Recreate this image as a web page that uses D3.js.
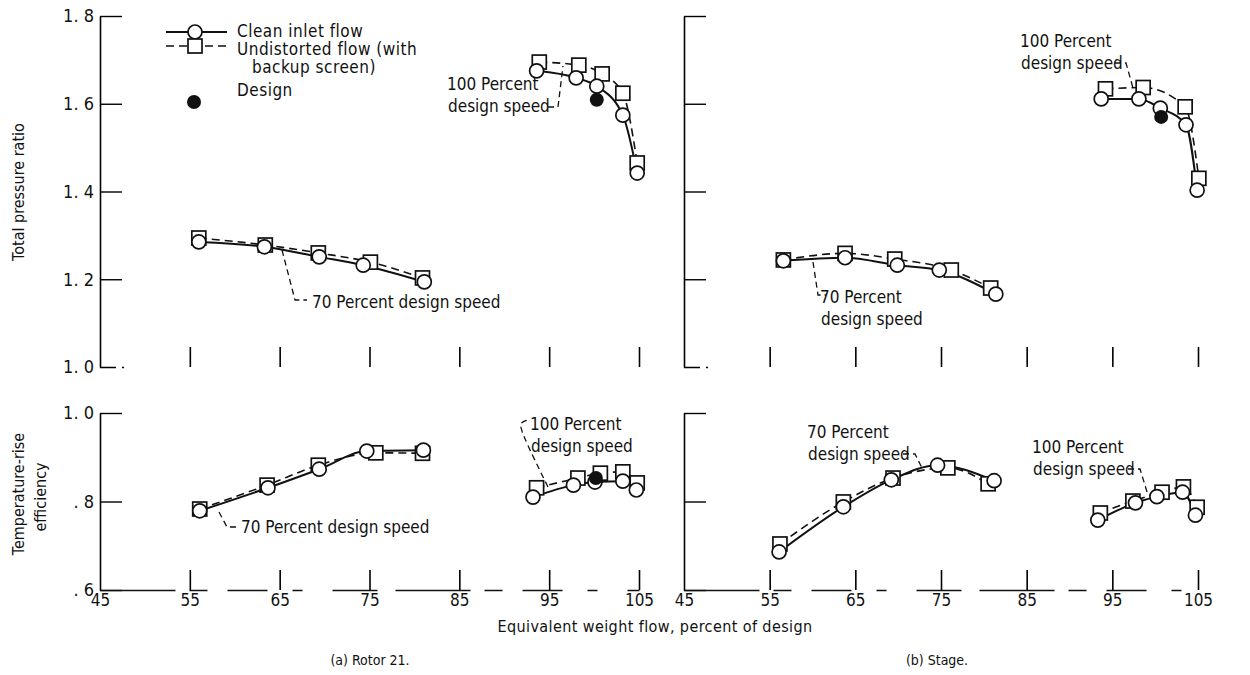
<!DOCTYPE html>
<html>
<head>
<meta charset="utf-8">
<script src="https://cdn.jsdelivr.net/npm/d3@7"></script>
<style>
  body { margin: 0; background: #fff; }
  svg text { font-family: "DejaVu Sans Condensed", "DejaVu Sans", sans-serif; font-stretch: condensed; fill: #111; }
</style>
</head>
<body>
<svg width="1250" height="675"></svg>
<script>
// tick labels
const xTicks = [45, 55, 65, 75, 85, 95, 105];
const prTicks = [1.0, 1.2, 1.4, 1.6, 1.8];
const effTicks = [0.6, 0.8, 1.0];

// (a) Rotor 21 - total pressure ratio
const rotorPr70Clean = [[56.0, 1.285], [63.3, 1.274], [69.4, 1.251], [74.3, 1.232], [81.1, 1.194]];
const rotorPr70Undist = [[56.0, 1.294], [63.4, 1.278], [69.3, 1.260], [75.1, 1.239], [80.9, 1.203]];
const rotorPr100Clean = [[93.6, 1.675], [98.0, 1.659], [100.3, 1.640], [103.2, 1.574], [104.8, 1.442]];
const rotorPr100Undist = [[93.9, 1.695], [98.3, 1.688], [100.9, 1.668], [103.2, 1.624], [104.8, 1.465]];
const rotorPrDesign = [[100.3, 1.609]];

// (a) Rotor 21 - temperature-rise efficiency
const rotorEff70Clean = [[56.1, 0.779], [63.7, 0.831], [69.4, 0.873], [74.7, 0.914], [81.0, 0.916]];
const rotorEff70Undist = [[56.1, 0.783], [63.6, 0.837], [69.3, 0.882], [75.7, 0.910], [80.9, 0.909]];
const rotorEff100Clean = [[93.2, 0.810], [97.7, 0.837], [100.1, 0.844], [103.2, 0.846], [104.7, 0.826]];
const rotorEff100Undist = [[93.6, 0.831], [98.2, 0.853], [100.7, 0.864], [103.2, 0.867], [104.8, 0.842]];
const rotorEffDesign = [[100.2, 0.853]];

// (b) Stage - total pressure ratio
const stagePr70Clean = [[56.6, 1.242], [63.8, 1.249], [69.9, 1.232], [74.8, 1.221], [81.4, 1.166]];
const stagePr70Undist = [[56.6, 1.244], [63.8, 1.259], [69.6, 1.246], [76.2, 1.221], [80.8, 1.180]];
const stagePr100Clean = [[93.7, 1.611], [98.1, 1.611], [100.6, 1.590], [103.6, 1.552], [104.9, 1.403]];
const stagePr100Undist = [[94.2, 1.634], [98.6, 1.637], [103.5, 1.593], [105.1, 1.430]];
const stagePrDesign = [[100.7, 1.570]];

// (b) Stage - temperature-rise efficiency
const stageEff70Clean = [[56.1, 0.686], [63.6, 0.788], [69.2, 0.849], [74.6, 0.882], [81.2, 0.847]];
const stageEff70Undist = [[56.2, 0.704], [63.6, 0.799], [69.4, 0.853], [75.8, 0.876], [80.5, 0.840]];
const stageEff100Clean = [[93.3, 0.758], [97.7, 0.797], [100.2, 0.811], [103.2, 0.821], [104.7, 0.769]];
const stageEff100Undist = [[93.6, 0.774], [97.4, 0.801], [100.8, 0.821], [103.3, 0.833], [104.9, 0.787]];

const svg = d3.select("svg");

const xLeft = d3.scaleLinear().domain([45, 105]).range([100, 639]);
const xRight = d3.scaleLinear().domain([45, 105]).range([684, 1198]);
const yTop = d3.scaleLinear().domain([1.0, 1.8]).range([367, 16]);
const yBot = d3.scaleLinear().domain([0.6, 1.0]).range([590, 413]);

function prFmt(d) { return d3.format(".1f")(d).replace(".", ". "); }
function effFmt(d) { return d === 1 ? "1. 0" : d3.format(".1f")(d).replace("0.", ". "); }

function drawPanel(x, y, ticks, fmt, bottom) {
  const g = svg.append("g");
  // y axis, ticks pointing inwards
  const ya = g.append("g")
    .attr("transform", `translate(${x.range()[0]},0)`)
    .call(d3.axisLeft(y).tickValues(ticks).tickSizeInner(-22).tickSizeOuter(0).tickPadding(6)
      .tickFormat(x === xLeft ? fmt : ""));
  ya.select(".domain").attr("stroke-width", 1.6);
  ya.selectAll(".tick line").attr("stroke-width", 1.4);
  ya.selectAll(".tick").filter(d => d === y.domain()[0]).select("line")
    .attr("x2", bottom ? 22 : 24).attr("stroke-dasharray", bottom ? null : "16,6,3,40");
  ya.selectAll("text").style("font-size", "18px");

  // x axis, ticks pointing up
  const xa = g.append("g")
    .attr("transform", `translate(0,${y.range()[0]})`)
    .call(d3.axisBottom(x).tickValues(xTicks).tickSizeInner(-20).tickSizeOuter(0).tickPadding(4)
      .tickFormat(bottom ? d3.format("d") : ""));
  xa.select(".domain").attr("stroke", bottom ? "#111" : "none")
    .attr("stroke-width", 1.4).attr("stroke-dasharray", "75,14,18,20,40,25,10,30,45,18");
  xa.selectAll(".tick line").attr("stroke-width", 1.6);
  xa.selectAll(".tick").filter(d => d === 45).select("line").attr("stroke", "none");
  xa.selectAll("text").style("font-size", "17px");
  return g;
}

drawPanel(xLeft, yTop, prTicks, prFmt, false);
drawPanel(xLeft, yBot, effTicks, effFmt, true);
drawPanel(xRight, yTop, prTicks, prFmt, false);
drawPanel(xRight, yBot, effTicks, effFmt, true);

function drawSeries(x, y, data, kind) {
  const line = d3.line().x(d => x(d[0])).y(d => y(d[1])).curve(d3.curveMonotoneX);
  svg.append("path").datum(data)
    .attr("d", line)
    .attr("fill", "none")
    .attr("stroke", "#111")
    .attr("stroke-width", kind === "clean" ? 2 : 1.6)
    .attr("stroke-dasharray", kind === "clean" ? null : "8,5");
}

function drawMarks(x, y, data, kind) {
  if (kind === "clean") {
    svg.append("g").selectAll("circle").data(data).join("circle")
      .attr("cx", d => x(d[0])).attr("cy", d => y(d[1])).attr("r", 7)
      .attr("fill", "#fff").attr("stroke", "#111").attr("stroke-width", 1.7);
  } else if (kind === "undist") {
    svg.append("g").selectAll("rect").data(data).join("rect")
      .attr("x", d => x(d[0]) - 7).attr("y", d => y(d[1]) - 7)
      .attr("width", 14).attr("height", 14)
      .attr("fill", "#fff").attr("stroke", "#111").attr("stroke-width", 1.7);
  } else {
    svg.append("g").selectAll("circle").data(data).join("circle")
      .attr("cx", d => x(d[0])).attr("cy", d => y(d[1])).attr("r", 7)
      .attr("fill", "#111");
  }
}

const groups = [
  [xLeft, yTop, rotorPr70Clean, rotorPr70Undist, null],
  [xLeft, yTop, rotorPr100Clean, rotorPr100Undist, rotorPrDesign],
  [xLeft, yBot, rotorEff70Clean, rotorEff70Undist, null],
  [xLeft, yBot, rotorEff100Clean, rotorEff100Undist, rotorEffDesign],
  [xRight, yTop, stagePr70Clean, stagePr70Undist, null],
  [xRight, yTop, stagePr100Clean, stagePr100Undist, stagePrDesign],
  [xRight, yBot, stageEff70Clean, stageEff70Undist, null],
  [xRight, yBot, stageEff100Clean, stageEff100Undist, null]
];
groups.forEach(([x, y, c, u]) => { drawSeries(x, y, c, "clean"); drawSeries(x, y, u, "undist"); });
groups.forEach(([x, y, c, u, des]) => {
  drawMarks(x, y, u, "undist");
  drawMarks(x, y, c, "clean");
  if (des) drawMarks(x, y, des, "design");
});

// legend
const leg = svg.append("g");
leg.append("line").attr("x1", 166).attr("x2", 227).attr("y1", 32).attr("y2", 32).attr("stroke", "#111").attr("stroke-width", 2);
leg.append("circle").attr("cx", 195).attr("cy", 32).attr("r", 7).attr("fill", "#fff").attr("stroke", "#111").attr("stroke-width", 1.7);
leg.append("line").attr("x1", 166).attr("x2", 230).attr("y1", 46).attr("y2", 46).attr("stroke", "#111").attr("stroke-width", 1.6).attr("stroke-dasharray", "8,5");
leg.append("rect").attr("x", 188).attr("y", 39).attr("width", 14).attr("height", 14).attr("fill", "#fff").attr("stroke", "#111").attr("stroke-width", 1.7);
leg.append("circle").attr("cx", 194).attr("cy", 102).attr("r", 7).attr("fill", "#111");
const legText = [["Clean inlet flow", 237, 37], ["Undistorted flow (with", 237, 55], ["backup screen)", 252, 73], ["Design", 237, 96]];
leg.selectAll("text").data(legText).join("text")
  .attr("x", d => d[1]).attr("y", d => d[2]).text(d => d[0])
  .style("font-size", "17px").style("letter-spacing", "0.5px");

// annotations
function note(lines, x0, y0, dy, leader, curve) {
  const t = svg.append("text").attr("x", x0).attr("y", y0).style("font-size", "17px");
  lines.forEach((s, i) => t.append("tspan").attr("x", x0 + (i ? 1 : 0)).attr("dy", i ? dy : 0).text(s));
  svg.append("path").attr("d", d3.line().curve(curve || d3.curveLinear)(leader)).attr("fill", "none")
    .attr("stroke", "#111").attr("stroke-width", 1.3).attr("stroke-dasharray", "6,4");
}
note(["100 Percent", "design speed"], 447, 90, 22, [[548, 107], [558, 107], [563, 66]]);
note(["70 Percent design speed"], 312, 308, 0, [[282, 250], [295, 300], [307, 300]]);
note(["70 Percent design speed"], 241, 533, 0, [[219, 512], [227, 527], [238, 527]]);
note(["100 Percent", "design speed"], 530, 430, 22, [[548, 487], [519, 428], [521, 422], [528, 420]], d3.curveBasis);
note(["100 Percent", "design speed"], 1020, 47, 22, [[1115, 63], [1126, 63], [1133, 88]]);
note(["70 Percent", "design speed"], 820, 303, 22, [[813, 262], [818, 295], [826, 295]]);
note(["70 Percent", "design speed"], 807, 438, 22, [[903, 454], [915, 454], [922, 468]]);
note(["100 Percent", "design speed"], 1032, 453, 22, [[1128, 469], [1140, 469], [1148, 495]]);

// axis titles
svg.append("text").attr("transform", "translate(24,192) rotate(-90)")
  .attr("text-anchor", "middle").style("font-size", "16px").text("Total pressure ratio");
svg.append("text").attr("transform", "translate(24,494) rotate(-90)")
  .attr("text-anchor", "middle").style("font-size", "16px").text("Temperature-rise");
svg.append("text").attr("transform", "translate(46,497) rotate(-90)")
  .attr("text-anchor", "middle").style("font-size", "16px").text("efficiency");
svg.append("text").attr("x", 655).attr("y", 632).attr("text-anchor", "middle")
  .style("font-size", "16px").style("letter-spacing", "0.4px").text("Equivalent weight flow, percent of design");
svg.append("text").attr("x", 370).attr("y", 665).attr("text-anchor", "middle")
  .style("font-size", "14px").text("(a) Rotor 21.");
svg.append("text").attr("x", 937).attr("y", 665).attr("text-anchor", "middle")
  .style("font-size", "14px").text("(b) Stage.");
</script>
</body>
</html>
